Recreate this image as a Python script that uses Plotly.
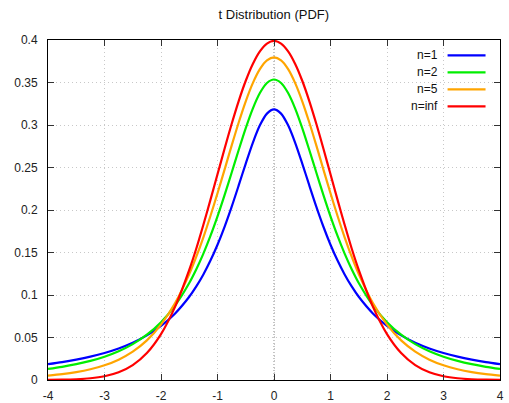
import plotly.graph_objects as go

# Sample points for the t-distribution density curves (symmetric about 0)
x_half = [0.0, 0.125, 0.25, 0.375, 0.5, 0.625, 0.75, 0.875, 1.0, 1.125, 1.25,
          1.375, 1.5, 1.75, 2.0, 2.25, 2.5, 2.75, 3.0, 3.25, 3.5, 3.75, 4.0]

pdf_n1 = [0.31831, 0.31341, 0.29959, 0.27907, 0.25465, 0.22890, 0.20372, 0.18028,
          0.15915, 0.14050, 0.12422, 0.11012, 0.09794, 0.07835, 0.06366, 0.05250,
          0.04390, 0.03717, 0.03183, 0.02753, 0.02402, 0.02113, 0.01872]
pdf_n2 = [0.35355, 0.34945, 0.33760, 0.31929, 0.29630, 0.27054, 0.24378, 0.21742,
          0.19245, 0.16945, 0.14872, 0.13031, 0.11413, 0.08779, 0.06804, 0.05328,
          0.04220, 0.03382, 0.02741, 0.02246, 0.01859, 0.01553, 0.01309]
pdf_n5 = [0.37961, 0.37607, 0.36572, 0.34930, 0.32792, 0.30292, 0.27570, 0.24757,
          0.21968, 0.19291, 0.16789, 0.14503, 0.12452, 0.09054, 0.06509, 0.04657,
          0.03333, 0.02393, 0.01729, 0.01259, 0.00924, 0.00685, 0.00512]
pdf_inf = [0.39894, 0.39584, 0.38667, 0.37186, 0.35207, 0.32816, 0.30114, 0.27206,
           0.24197, 0.21188, 0.18265, 0.15467, 0.12952, 0.08628, 0.05399, 0.03174,
           0.01753, 0.00909, 0.00443, 0.00203, 0.00087, 0.00035, 0.00013]

series_names = ["n=1", "n=2", "n=5", "n=inf"]
series_values = [pdf_n1, pdf_n2, pdf_n5, pdf_inf]
series_colors = ["#0000ff", "#00ee00", "#ffa500", "#ff0000"]

x_ticks = [-4, -3, -2, -1, 0, 1, 2, 3, 4]
x_tick_text = ["-4", "-3", "-2", "-1", "0", "1", "2", "3", "4"]
y_ticks = [0, 0.05, 0.1, 0.15, 0.2, 0.25, 0.3, 0.35, 0.4]
y_tick_text = ["0", "0.05", "0.1", "0.15", "0.2", "0.25", "0.3", "0.35", "0.4"]

# Mirror the half-curves to cover [-4, 4]
x_full = [-v for v in x_half[:0:-1]] + x_half

fig = go.Figure()
for name, vals, color in zip(series_names, series_values, series_colors):
    y_full = vals[:0:-1] + vals
    fig.add_trace(go.Scatter(
        x=x_full, y=y_full, mode="lines", name=name,
        line=dict(color=color, width=2.2, shape="spline", smoothing=0.8),
        showlegend=False,
    ))

FONT = "Liberation Sans, Arial, sans-serif"

# Dotted zero line at x = 0
fig.add_shape(type="line", xref="x", yref="paper", x0=0, x1=0, y0=0, y1=1,
              line=dict(color="#888888", width=1, dash="1px,2px"), layer="below")

# Legend in the top-right corner: label on the left, line sample on the right
leg_top = 0.955
leg_step = 0.05
for i, (name, color) in enumerate(zip(series_names, series_colors)):
    yy = leg_top - i * leg_step
    fig.add_annotation(xref="paper", yref="paper", x=0.868, y=yy, text=name,
                       showarrow=False, xanchor="right", yanchor="middle",
                       font=dict(family=FONT, size=12, color="#111111"))
    fig.add_shape(type="line", xref="paper", yref="paper",
                  x0=0.884, x1=0.968, y0=yy, y1=yy,
                  line=dict(color=color, width=2.2))

axis_common = dict(
    showline=True, linecolor="#000000", linewidth=1, mirror="ticks",
    ticks="inside", ticklen=6, tickcolor="#333333", tickwidth=1,
    showgrid=True, gridcolor="#c8c8c8", griddash="1px,3px", gridwidth=1,
    zeroline=False, automargin=False,
    tickfont=dict(family=FONT, size=12, color="#222222"),
)

fig.update_layout(
    width=509, height=403,
    margin=dict(l=48, r=9, t=40, b=23),
    paper_bgcolor="white", plot_bgcolor="white",
    title=dict(text="t Distribution (PDF)", x=0.538, xanchor="center",
               y=0.963, yanchor="middle",
               font=dict(family=FONT, size=13, color="#111111")),
    xaxis=dict(range=[-4, 4], tickvals=x_ticks, ticktext=x_tick_text,
               ticklabelstandoff=5, **axis_common),
    yaxis=dict(range=[0, 0.4], tickvals=y_ticks, ticktext=y_tick_text,
               ticklabelstandoff=7, **axis_common),
)

fig.write_html("out.html")
